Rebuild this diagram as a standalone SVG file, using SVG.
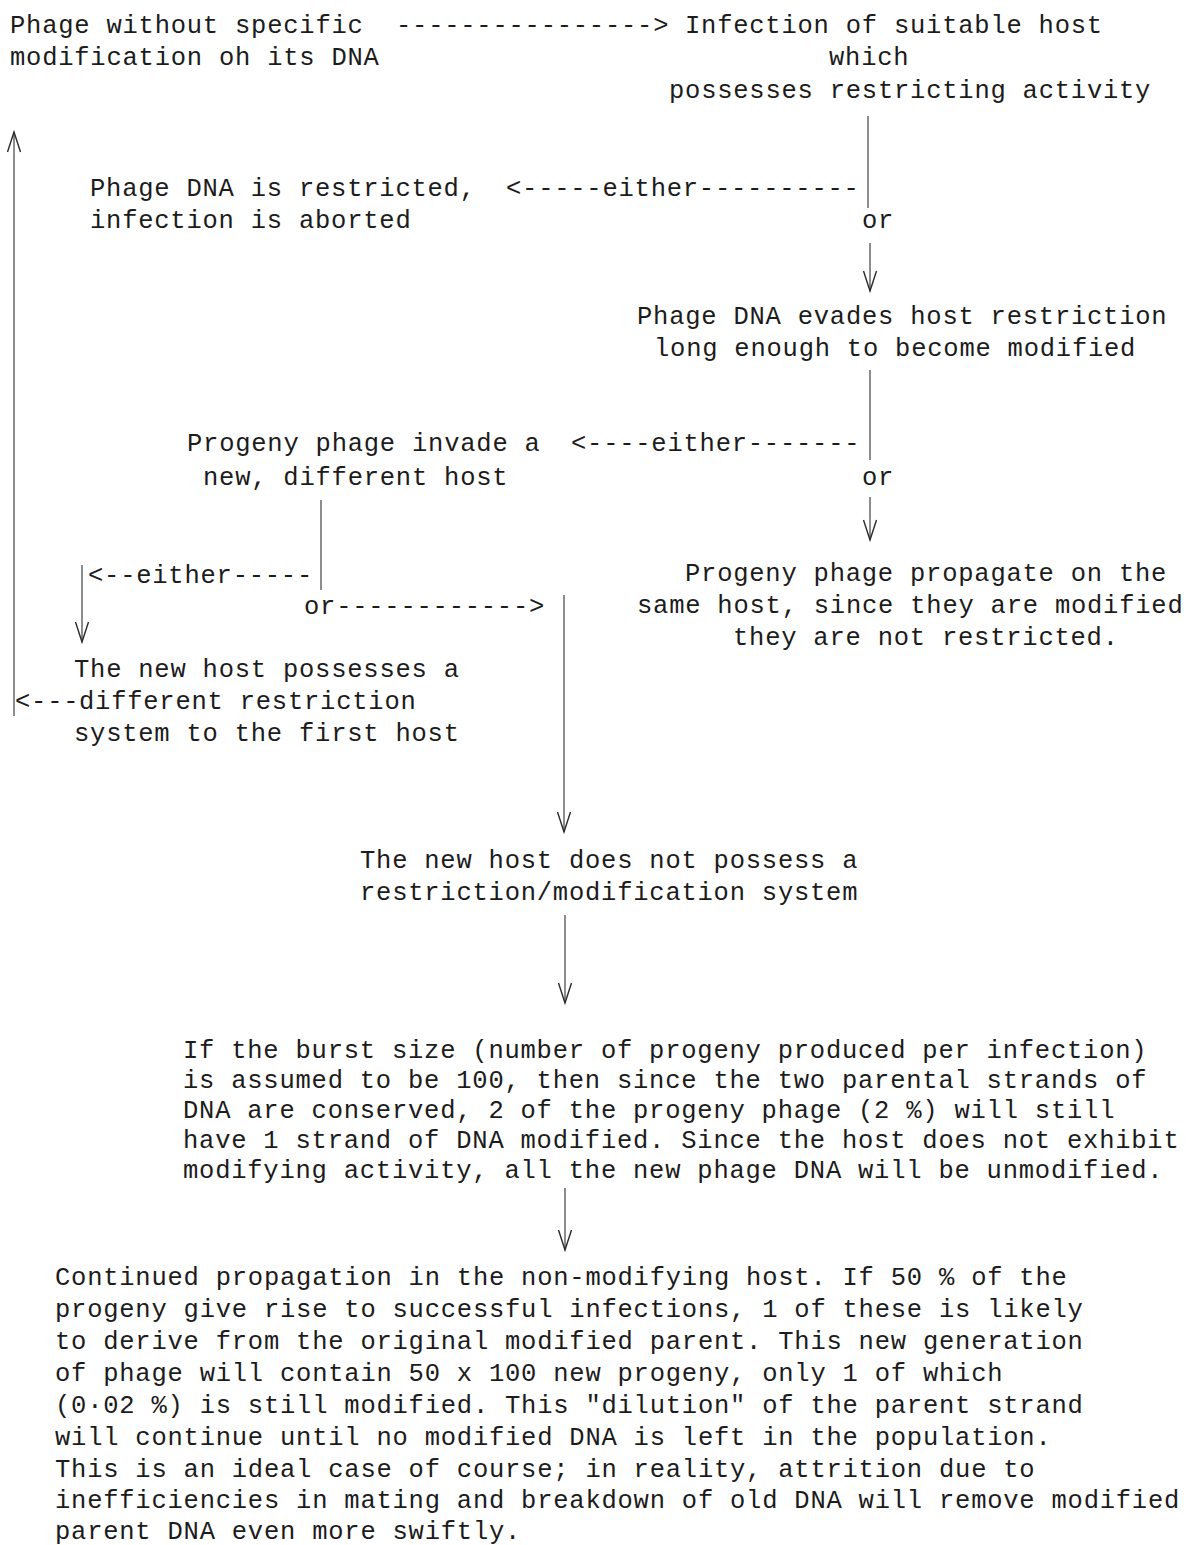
<svg xmlns="http://www.w3.org/2000/svg" width="1186" height="1545" viewBox="0 0 1186 1545">
<style>
text{font-family:"Liberation Mono","Courier New",monospace;font-size:25.5px;letter-spacing:0.77px;fill:#1c1c1c;white-space:pre}
.ln{stroke:#505050;stroke-width:1.3;fill:none}
.ar{marker-end:url(#v)}
</style>
<defs>
<marker id="v" viewBox="-22 -8 24 16" refX="0" refY="0" markerWidth="24" markerHeight="16" markerUnits="userSpaceOnUse" orient="auto">
<path d="M-20,-6.5 L0,0 L-20,6.5" fill="none" stroke="#2a2a2a" stroke-width="1.4"/>
</marker>
</defs>
<rect width="1186" height="1545" fill="#ffffff"/>
<g id="n1">
<text x="10" y="33">Phage without specific</text>
<text x="10" y="65">modification oh its DNA</text>
</g>
<g id="n2">
<text x="685" y="33">Infection of suitable host</text>
<text x="829" y="65">which</text>
<text x="669" y="98">possesses restricting activity</text>
</g>
<g id="n3">
<text x="90" y="196">Phage DNA is restricted,</text>
<text x="90" y="228">infection is aborted</text>
</g>
<g id="n4">
<text x="637" y="324">Phage DNA evades host restriction</text>
<text x="654" y="356">long enough to become modified</text>
</g>
<g id="n5">
<text x="187" y="451">Progeny phage invade a</text>
<text x="203" y="485">new, different host</text>
</g>
<g id="n6">
<text x="685" y="581">Progeny phage propagate on the</text>
<text x="637" y="613">same host, since they are modified</text>
<text x="733" y="645">they are not restricted.</text>
</g>
<g id="n7">
<text x="74" y="677">The new host possesses a</text>
<text x="79" y="709">different restriction</text>
<text x="74" y="741">system to the first host</text>
</g>
<g id="n8">
<text x="360" y="868">The new host does not possess a</text>
<text x="360" y="900">restriction/modification system</text>
</g>
<g id="n9">
<text x="183" y="1058">If the burst size (number of progeny produced per infection)</text>
<text x="183" y="1088">is assumed to be 100, then since the two parental strands of</text>
<text x="183" y="1118">DNA are conserved, 2 of the progeny phage (2 %) will still</text>
<text x="183" y="1148">have 1 strand of DNA modified. Since the host does not exhibit</text>
<text x="183" y="1178">modifying activity, all the new phage DNA will be unmodified.</text>
</g>
<g id="n10">
<text x="55" y="1285">Continued propagation in the non-modifying host. If 50 % of the</text>
<text x="55" y="1317">progeny give rise to successful infections, 1 of these is likely</text>
<text x="55" y="1349">to derive from the original modified parent. This new generation</text>
<text x="55" y="1381">of phage will contain 50 x 100 new progeny, only 1 of which</text>
<text x="55" y="1413">(0·02 %) is still modified. This "dilution" of the parent strand</text>
<text x="55" y="1445">will continue until no modified DNA is left in the population.</text>
<text x="55" y="1477">This is an ideal case of course; in reality, attrition due to</text>
<text x="55" y="1508">inefficiencies in mating and breakdown of old DNA will remove modified</text>
<text x="55" y="1539">parent DNA even more swiftly.</text>
</g>
<g id="connectors">
<text x="396" y="33">----------------&gt;</text>
<line class="ln" x1="868" y1="116" x2="868" y2="208"/>
<text x="506" y="196">&lt;-----either----------</text>
<text x="862" y="228">or</text>
<line class="ln ar" x1="870" y1="243" x2="870" y2="291"/>
<line class="ln" x1="870" y1="370" x2="870" y2="460"/>
<text x="571" y="451">&lt;----either-------</text>
<text x="862" y="485">or</text>
<line class="ln ar" x1="870" y1="497" x2="870" y2="540"/>
<line class="ln" x1="321" y1="500" x2="321" y2="590"/>
<text x="88" y="583">&lt;--either-----</text>
<line class="ln ar" x1="82" y1="565" x2="82" y2="642"/>
<text x="304" y="614">or------------&gt;</text>
<line class="ln ar" x1="564" y1="595" x2="564" y2="832"/>
<text x="15" y="709">&lt;---</text>
<line class="ln ar" x1="14" y1="716" x2="14" y2="132"/>
<line class="ln ar" x1="565" y1="915" x2="565" y2="1003"/>
<line class="ln ar" x1="565" y1="1188" x2="565" y2="1250"/>
</g>
</svg>
